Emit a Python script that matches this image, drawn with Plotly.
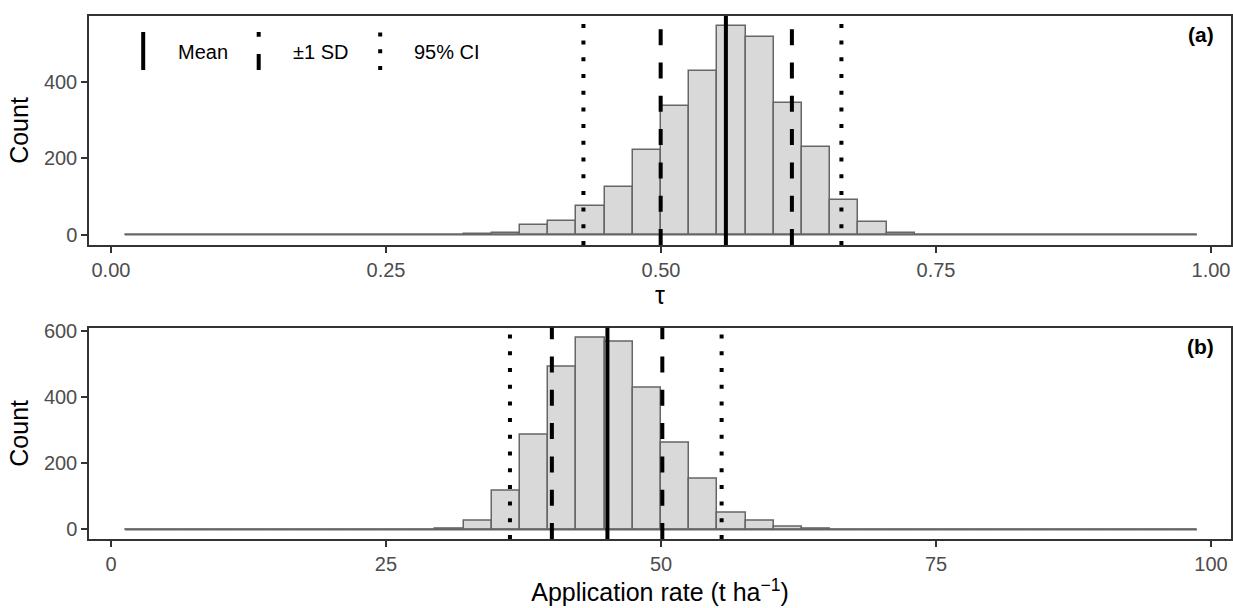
import numpy as np
import plotly.graph_objects as go

# ---------------- data ----------------
# 38 histogram bins; bin k (k = 1..38) is centred at k * width
n_bins = 38
tau_bin_width = 1 / 39
rate_bin_width = 100 / 39

tau_counts = [0, 0, 0, 0, 0, 0, 0, 0, 0, 0,
              0, 0, 2, 5, 25, 36, 74, 126, 222, 337,
              430, 546, 519, 346, 231, 90, 32, 4, 0, 0,
              0, 0, 0, 0, 0, 0, 0, 0]
rate_counts = [0, 0, 0, 0, 0, 0, 0, 0, 0, 0,
               0, 2, 25, 117, 286, 493, 581, 569, 430, 261,
               154, 52, 26, 7, 1, 0, 0, 0, 0, 0,
               0, 0, 0, 0, 0, 0, 0, 0]

# summary statistics (mean, +-1 SD, 95% CI)
tau_mean = 0.559
tau_sd_lines = [0.4997, 0.619]
tau_ci_lines = [0.4295, 0.664]
rate_mean = 45.13
rate_sd_lines = [40.08, 50.12]
rate_ci_lines = [36.27, 55.51]

tau_ticks = [0, 0.25, 0.5, 0.75, 1.0]
tau_ticklabels = ["0.00", "0.25", "0.50", "0.75", "1.00"]
rate_ticks = [0, 25, 50, 75, 100]
rate_ticklabels = ["0", "25", "50", "75", "100"]
legend_labels = ["Mean", "±1 SD", "95% CI"]

# ---------------- derived positions ----------------
k = np.arange(1, n_bins + 1)
tau_centers = k * tau_bin_width
rate_centers = k * rate_bin_width

FONT = "Liberation Sans, Arial, sans-serif"
FILL = "#D9D9D9"
EDGE = "#666666"
AX = "#333333"
TICKC = "#4D4D4D"

DOT = "4px,12.7px"
DASH = "16px,17.3px"

fig = go.Figure()

# baseline (zero-count bins) lines
fig.add_trace(go.Scatter(
    x=[tau_centers[0] - tau_bin_width / 2, tau_centers[-1] + tau_bin_width / 2],
    y=[0, 0], mode="lines", line=dict(color=EDGE, width=2),
    xaxis="x", yaxis="y", showlegend=False, hoverinfo="skip"))
fig.add_trace(go.Scatter(
    x=[rate_centers[0] - rate_bin_width / 2, rate_centers[-1] + rate_bin_width / 2],
    y=[0, 0], mode="lines", line=dict(color=EDGE, width=2),
    xaxis="x2", yaxis="y2", showlegend=False, hoverinfo="skip"))

fig.add_trace(go.Bar(
    x=tau_centers, y=tau_counts, width=tau_bin_width,
    marker=dict(color=FILL, line=dict(color=EDGE, width=1.5)),
    xaxis="x", yaxis="y", showlegend=False))
fig.add_trace(go.Bar(
    x=rate_centers, y=rate_counts, width=rate_bin_width,
    marker=dict(color=FILL, line=dict(color=EDGE, width=1.5)),
    xaxis="x2", yaxis="y2", showlegend=False))

shapes = []


def vline(xv, xref, yref, dash):
    shapes.append(dict(type="line", xref=xref, yref=yref,
                       x0=xv, x1=xv, y0=0, y1=1,
                       line=dict(color="black", width=4, dash=dash)))


for xv in tau_ci_lines:
    vline(xv, "x", "y domain", DOT)
for xv in tau_sd_lines:
    vline(xv, "x", "y domain", DASH)
vline(tau_mean, "x", "y domain", "solid")
for xv in rate_ci_lines:
    vline(xv, "x2", "y2 domain", DOT)
for xv in rate_sd_lines:
    vline(xv, "x2", "y2 domain", DASH)
vline(rate_mean, "x2", "y2 domain", "solid")

# ---------------- manual legend (vertical keys) ----------------
W, H = 1233, 608
ML, MR, MT, MB = 89, 0, 16, 69
PW = W - ML - MR
PH = H - MT - MB


def px(xp):
    return (xp - ML) / PW


def py(yp):
    return (H - MB - yp) / PH


key_x = [143.3, 259, 380.7]
key_dash = ["solid", DASH, DOT]
text_x = [176, 291, 413]
annotations = []
for kx, kd, tx, lab in zip(key_x, key_dash, text_x, legend_labels):
    shapes.append(dict(type="line", xref="paper", yref="paper",
                       x0=px(kx), x1=px(kx), y0=py(70), y1=py(32),
                       line=dict(color="black", width=4, dash=kd)))
    annotations.append(dict(xref="paper", yref="paper", x=px(tx), y=py(52),
                            xanchor="left", yanchor="middle", showarrow=False,
                            text=lab, font=dict(family=FONT, size=20, color="black")))

annotations.append(dict(xref="paper", yref="paper", x=px(1218), y=py(34),
                        xanchor="right", yanchor="middle", showarrow=False,
                        text="<b>(a)</b>", font=dict(family=FONT, size=21, color="black")))
annotations.append(dict(xref="paper", yref="paper", x=px(1218), y=py(346),
                        xanchor="right", yanchor="middle", showarrow=False,
                        text="<b>(b)</b>", font=dict(family=FONT, size=21, color="black")))

axis_common = dict(showline=True, mirror=True, linecolor=AX, linewidth=1.5,
                   ticks="outside", ticklen=6, tickwidth=1.5, tickcolor=AX,
                   showgrid=False, zeroline=False,
                   tickfont=dict(family=FONT, size=20, color=TICKC))

tau_max = max(tau_counts)
rate_max = max(rate_counts)

fig.update_layout(
    width=W, height=H,
    margin=dict(l=ML, r=MR, t=MT, b=MB),
    plot_bgcolor="white", paper_bgcolor="white",
    bargap=0, showlegend=False,
    font=dict(family=FONT),
    shapes=shapes, annotations=annotations,
    xaxis=dict(domain=[0, 1], anchor="y",
               range=[-0.01996, 1.01815],
               tickvals=tau_ticks, ticktext=tau_ticklabels,
               title=dict(text="τ", font=dict(family=FONT, size=25, color="black"), standoff=0),
               **axis_common),
    yaxis=dict(domain=[py(245), 1], anchor="x",
               range=[-0.05 * tau_max, 1.05 * tau_max],
               tickvals=[0, 200, 400],
               title=dict(text="Count", font=dict(family=FONT, size=25, color="black"), standoff=8),
               **axis_common),
    xaxis2=dict(domain=[0, 1], anchor="y2",
                range=[-1.996, 101.815],
                tickvals=rate_ticks, ticktext=rate_ticklabels,
                title=dict(text="Application rate (t ha<sup>−1</sup>)",
                           font=dict(family=FONT, size=25, color="black"), standoff=0),
                **axis_common),
    yaxis2=dict(domain=[0, py(327.7)], anchor="x2",
                range=[-0.05 * rate_max, 1.05 * rate_max],
                tickvals=[0, 200, 400, 600],
                title=dict(text="Count", font=dict(family=FONT, size=25, color="black"), standoff=8),
                **axis_common),
)

fig.write_html(
    "out.html",
    config={"displayModeBar": False},
    post_script="document.body.style.margin='0';document.body.style.overflow='hidden';",
)
